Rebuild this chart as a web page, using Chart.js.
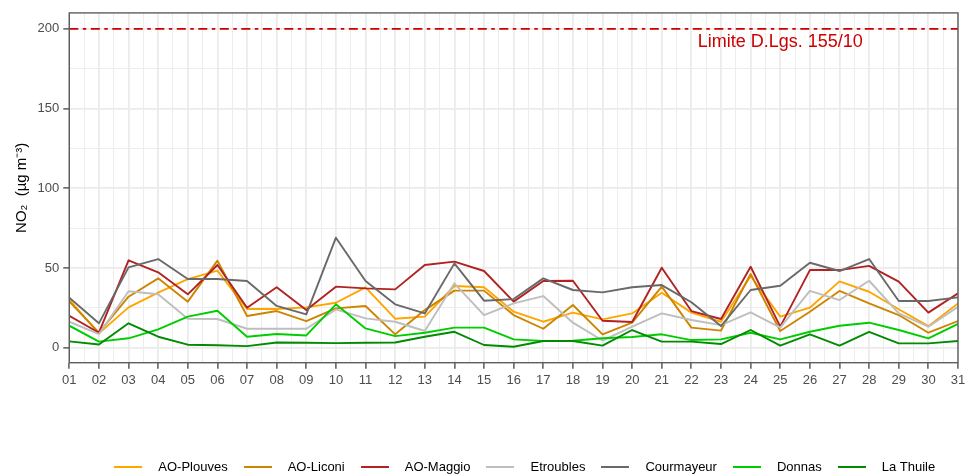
<!DOCTYPE html>
<html>
<head>
<meta charset="utf-8">
<script src="https://cdn.jsdelivr.net/npm/chart.js@4.4.1/dist/chart.umd.min.js"></script>
<style>
	html, body { margin: 0; padding: 0; background: #fff; }
</style>
</head>
<body>
<canvas id="chart" width="965" height="476"></canvas>
<script>
(function () {
	/*global Chart */

	// Days of the month (x tick labels)
	var days = ['01', '02', '03', '04', '05', '06', '07', '08', '09', '10',
		'11', '12', '13', '14', '15', '16', '17', '18', '19', '20',
		'21', '22', '23', '24', '25', '26', '27', '28', '29', '30', '31'];
	var yTicks = [0, 50, 100, 150, 200];

	var stations = ['AO-Plouves', 'AO-Liconi', 'AO-Maggio', 'Etroubles', 'Courmayeur', 'Donnas', 'La Thuile'];

	// Daily NO2 means, µg/m3
	var aoPlouves = [30, 9, 25.3, 34.5, 43, 48.3, 24.3, 24.3, 25.3, 28.2, 37.9, 18.2, 19.5, 38.7, 37.9, 22.6,
		16.3, 22, 17.8, 21.5, 34.5, 22, 16.3, 45, 19.5, 25.1, 41.6, 35.1, 24.1, 13.5, 27.8];
	var aoLiconi = [29, 9.5, 32, 43.5, 28.9, 54.6, 19.9, 23, 16.7, 24.7, 26.2, 8.4, 23.6, 35.8, 35.8, 20.5,
		11.9, 26.8, 8.4, 15.7, 38.3, 12.6, 10.7, 46.2, 10.5, 22.6, 35.6, 27.8, 20.5, 9.4, 16.7];
	var aoMaggio = [20, 9.4, 54.8, 47.3, 33.5, 51.9, 25.1, 37.9, 23.6, 38.3, 37.2, 36.6, 51.9, 54, 48.1, 28.9,
		41.8, 42, 16.9, 16.1, 50.2, 23, 18, 50.8, 13.2, 48.7, 48.7, 51.3, 41.4, 22, 34.1];
	var etroubles = [16.3, 8.5, 35.4, 33.5, 18.2, 18, 11.9, 11.9, 11.9, 24, 18.4, 16.3, 10.5, 40.4, 20.5, 27.8,
		32.4, 15.7, 4.5, 13.2, 21.5, 17.4, 14.2, 22.2, 12.6, 35.6, 29.9, 42, 21.5, 13.2, 25.7];
	var courmayeur = [31.4, 15.3, 50.4, 55.6, 43.1, 43.1, 41.8, 26.2, 20.9, 69, 41.8, 27.2, 21.5, 52.9, 29.5, 30.5,
		43.5, 36.2, 34.7, 37.9, 39.3, 28.5, 13.6, 36.2, 38.9, 53.3, 48.1, 55.6, 29.3, 29.3, 31.6];
	var donnas = [13.8, 3.8, 5.9, 11.5, 19.5, 23.2, 6.9, 8.6, 7.7, 27.2, 12.1, 7.3, 9.4, 12.6, 12.6, 5.2,
		4.2, 4.4, 5.9, 6.7, 8.4, 4.8, 5.2, 9.4, 5.2, 10, 13.8, 15.7, 11.1, 5.9, 14.9];
	var laThuile = [4, 2, 15.3, 6.9, 1.9, 1.5, 1, 3.3, 3.1, 2.9, 3.1, 3.3, 6.9, 10, 1.7, 0.6,
		4.2, 4.2, 1.3, 11.1, 3.8, 3.8, 2.3, 11.1, 1.3, 8.4, 1.3, 10, 2.7, 2.7, 4.2];

	var limitValue = 200;
	var limitLabel = 'Limite D.Lgs. 155/10';
	var limitLabelDay = 25;
	var limitLabelValue = 192;

	var series = [aoPlouves, aoLiconi, aoMaggio, etroubles, courmayeur, donnas, laThuile];
	var colors = ['#FFA500', '#CD8500', '#B22222', '#BEBEBE', '#696969', '#00CD00', '#008B00'];

	var fontFamily = '"Liberation Sans", Arial, sans-serif';

	// Short line used as legend key
	function legendKey(color) {
		var c = document.createElement('canvas');
		c.width = 28;
		c.height = 4;
		var k = c.getContext('2d');
		k.strokeStyle = color;
		k.lineWidth = 2;
		k.beginPath();
		k.moveTo(0, 2);
		k.lineTo(28, 2);
		k.stroke();
		return c;
	}

	var datasets = [];
	for (var s = 0; s < stations.length; s++) {
		datasets.push({
			label: stations[s],
			data: series[s].map(function (v, i) {
				return { x: i + 1, y: v };
			}),
			borderColor: colors[s],
			backgroundColor: colors[s],
			borderWidth: 1.9,
			borderJoinStyle: 'round',
			pointRadius: 0,
			pointStyle: legendKey(colors[s]),
			tension: 0,
			fill: false,
			order: stations.length - s,
		});
	}
	datasets.push({
		label: 'limit',
		data: [{ x: 1, y: limitValue }, { x: days.length, y: limitValue }],
		borderColor: '#CD0000',
		borderWidth: 1.8,
		borderDash: [9, 4.5, 3.5, 4.5],
		pointRadius: 0,
		fill: false,
		order: 0,
	});

	var xTickValues = [];
	for (var d = 1; d <= days.length; d += 0.5) {
		xTickValues.push(d);
	}
	var yTickValues = [];
	for (var t = 0; t < yTicks.length; t++) {
		yTickValues.push(yTicks[t]);
		if (t < yTicks.length - 1) {
			yTickValues.push((yTicks[t] + yTicks[t + 1]) / 2);
		}
	}

	function isMajorX(v) {
		return Number.isInteger(v);
	}
	function isMajorY(v) {
		return yTicks.indexOf(v) !== -1;
	}

	// Place the legend row under the panel
	var legendPlace = {
		id: 'legendPlace',
		afterLayout: function (chart) {
			var lg = chart.legend;
			if (!lg || !lg.lineWidths) {
				return;
			}
			var pad = lg.options.labels.padding;
			var rowWidth = lg.lineWidths[0] - pad;
			var w = lg.right - lg.left;
			var h = lg.bottom - lg.top;
			lg.left = 520 - rowWidth / 2 - pad;
			lg.right = lg.left + w;
			lg.top = 467 - pad - 6.5;
			lg.bottom = lg.top + h;
		},
	};

	// Panel border and the limit label
	var panelDecor = {
		id: 'panelDecor',
		afterDatasetsDraw: function (chart) {
			var ctx = chart.ctx,
				a = chart.chartArea,
				xs = chart.scales.x,
				ys = chart.scales.y;
			ctx.save();
			ctx.font = '18px ' + fontFamily;
			ctx.fillStyle = '#CD0000';
			ctx.textAlign = 'center';
			ctx.textBaseline = 'middle';
			ctx.fillText(limitLabel, xs.getPixelForValue(limitLabelDay), ys.getPixelForValue(limitLabelValue));
			ctx.strokeStyle = '#5E5E5E';
			ctx.lineWidth = 1.4;
			ctx.strokeRect(a.left, a.top, a.right - a.left, a.bottom - a.top);
			ctx.restore();
		},
	};

	new Chart(document.getElementById('chart'), {
		type: 'line',
		data: { datasets: datasets },
		plugins: [legendPlace, panelDecor],
		options: {
			responsive: false,
			animation: false,
			devicePixelRatio: 1,
			layout: {
				padding: { left: 0, right: 7, top: 12.9, bottom: 0 },
			},
			plugins: {
				tooltip: { enabled: false },
				legend: {
					position: 'bottom',
					align: 'start',
					labels: {
						usePointStyle: true,
						pointStyleWidth: 47,
						padding: 6.5,
						color: '#000',
						font: { family: fontFamily, size: 13 },
						filter: function (item) {
							return item.text !== 'limit';
						},
						sort: function (a, b) {
							return a.datasetIndex - b.datasetIndex;
						},
					},
				},
			},
			scales: {
				x: {
					type: 'linear',
					min: 1,
					max: days.length,
					offset: false,
					afterBuildTicks: function (scale) {
						scale.ticks = xTickValues.map(function (v) {
							return { value: v };
						});
					},
					afterFit: function (scale) {
						scale.height = 83.8;
						scale.paddingLeft = 0;
						scale.paddingRight = 0;
					},
					border: { display: false },
					grid: {
						color: '#EBEBEB',
						lineWidth: function (c) {
							return c.tick && isMajorX(c.tick.value) ? 1.8 : 0.9;
						},
						tickLength: 6,
						tickColor: function (c) {
							return c.tick && isMajorX(c.tick.value) ? '#333333' : 'rgba(0,0,0,0)';
						},
						tickWidth: 1.2,
					},
					ticks: {
						autoSkip: false,
						maxRotation: 0,
						padding: 4,
						color: '#4D4D4D',
						font: { family: fontFamily, size: 13 },
						callback: function (v) {
							return isMajorX(v) ? days[v - 1] : '';
						},
					},
				},
				y: {
					min: -9.4,
					max: 210,
					afterBuildTicks: function (scale) {
						scale.ticks = yTickValues.map(function (v) {
							return { value: v };
						});
					},
					afterFit: function (scale) {
						scale.width = 69.3;
					},
					border: { display: false },
					grid: {
						color: '#EBEBEB',
						lineWidth: function (c) {
							return c.tick && isMajorY(c.tick.value) ? 1.8 : 0.9;
						},
						tickLength: 6,
						tickColor: function (c) {
							return c.tick && isMajorY(c.tick.value) ? '#333333' : 'rgba(0,0,0,0)';
						},
						tickWidth: 1.2,
					},
					title: {
						display: true,
						text: 'NO\u2082  (\u00B5g m\u207B\u00B3)',
						color: '#000',
						font: { family: fontFamily, size: 15 },
						padding: { top: 13, bottom: 0 },
					},
					ticks: {
						padding: 4,
						color: '#4D4D4D',
						font: { family: fontFamily, size: 13 },
						callback: function (v) {
							return isMajorY(v) ? String(v) : '';
						},
					},
				},
			},
		},
	});
})();
</script>
</body>
</html>
